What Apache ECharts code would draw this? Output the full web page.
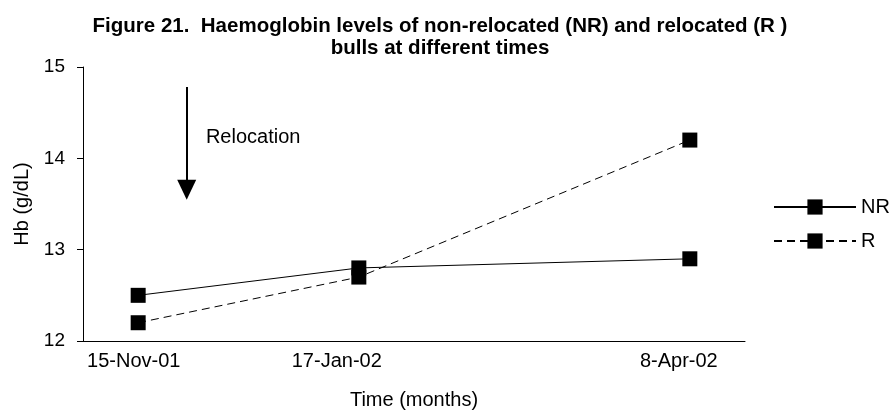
<!DOCTYPE html>
<html>
<head>
<meta charset="utf-8">
<script src="https://cdn.jsdelivr.net/npm/echarts@6/dist/echarts.min.js"></script>
<style>
  html, body { margin: 0; padding: 0; background: #ffffff; }
  #chart { width: 890px; height: 410px; }
</style>
</head>
<body>
<div id="chart"></div>
<script>
// Sampling times on the horizontal scale and their date labels
const sampleTimes = [1, 2, 3.5];
const dateLabels = ['15-Nov-01', '17-Jan-02', '8-Apr-02'];
const dateLabelAt = [0.98, 1.9, 3.45];

// Haemoglobin (g/dL) per group
const nrValues = [12.5, 12.8, 12.9];
const rValues = [12.2, 12.7, 14.2];

// Relocation marker: arrow shaft and note anchor in data units
const relocationArrow = [[1.22, 14.78], [1.22, 13.655]];
const relocationNote = [1.307, 14.23];

const FONT = "'Liberation Sans', Arial, sans-serif";
const chart = echarts.init(document.getElementById('chart'));

chart.setOption({
  animation: false,
  backgroundColor: '#ffffff',
  title: {
    text: 'Figure 21.  Haemoglobin levels of non-relocated (NR) and relocated (R )\nbulls at different times',
    left: 435,
    top: 10,
    textAlign: 'center',
    textStyle: { fontFamily: FONT, fontWeight: 'bold', fontSize: 20.5, lineHeight: 22, color: '#000' }
  },
  grid: { left: 83, right: 145, top: 67, bottom: 69, containLabel: false, outerBoundsMode: 'none' },
  legend: {
    orient: 'vertical',
    left: 768,
    top: 192,
    itemWidth: 82,
    itemHeight: 19,
    itemGap: 14,
    textStyle: { fontFamily: FONT, fontSize: 20, color: '#000' },
    data: ['NR', 'R']
  },
  xAxis: {
    type: 'value',
    min: 0.75,
    max: 3.75,
    name: 'Time (months)',
    nameLocation: 'middle',
    nameGap: 49,
    nameTextStyle: { fontFamily: FONT, fontSize: 20, color: '#000' },
    axisLine: { show: true, lineStyle: { color: '#000', width: 1 } },
    axisTick: { show: false },
    splitLine: { show: false },
    axisLabel: {
      customValues: dateLabelAt,
      formatter: v => dateLabels[dateLabelAt.indexOf(v)] || '',
      margin: 10,
      fontFamily: FONT, fontSize: 20, color: '#000'
    }
  },
  yAxis: {
    type: 'value',
    min: 12,
    max: 15,
    interval: 1,
    name: 'Hb (g/dL)',
    nameLocation: 'middle',
    nameRotate: 90,
    nameGap: 51,
    nameTextStyle: { fontFamily: FONT, fontSize: 20, color: '#000' },
    axisLine: { show: true, lineStyle: { color: '#000', width: 1 } },
    axisTick: { show: true, inside: false, length: 6, lineStyle: { color: '#000' } },
    splitLine: { show: false },
    axisLabel: { margin: 18, fontFamily: FONT, fontSize: 19, color: '#000' }
  },
  series: [
    {
      name: 'NR',
      type: 'line',
      data: sampleTimes.map((t, i) => [t, nrValues[i]]),
      symbol: 'rect',
      symbolSize: 15,
      itemStyle: { color: '#000' },
      lineStyle: { color: '#000', width: 1, type: 'solid' },
      z: 3,
      markLine: {
        silent: true,
        symbol: ['none', 'triangle'],
        symbolSize: [19, 20],
        label: { show: false },
        lineStyle: { color: '#000', width: 2, type: 'solid' },
        data: [[{ coord: relocationArrow[0] }, { coord: relocationArrow[1] }]]
      }
    },
    {
      name: 'R',
      type: 'line',
      data: sampleTimes.map((t, i) => [t, rValues[i]]),
      symbol: 'rect',
      symbolSize: 15,
      itemStyle: { color: '#000' },
      lineStyle: { color: '#000', width: 1, type: [8, 5] },
      z: 2
    }
  ]
});

// Annotation text next to the arrow
const notePx = chart.convertToPixel({ gridIndex: 0 }, relocationNote);
chart.setOption({
  graphic: [{
    type: 'text',
    x: notePx[0],
    y: notePx[1],
    silent: true,
    style: { text: 'Relocation', fontFamily: FONT, fontSize: 20, fill: '#000', align: 'left', verticalAlign: 'middle' }
  }]
});
</script>
</body>
</html>
